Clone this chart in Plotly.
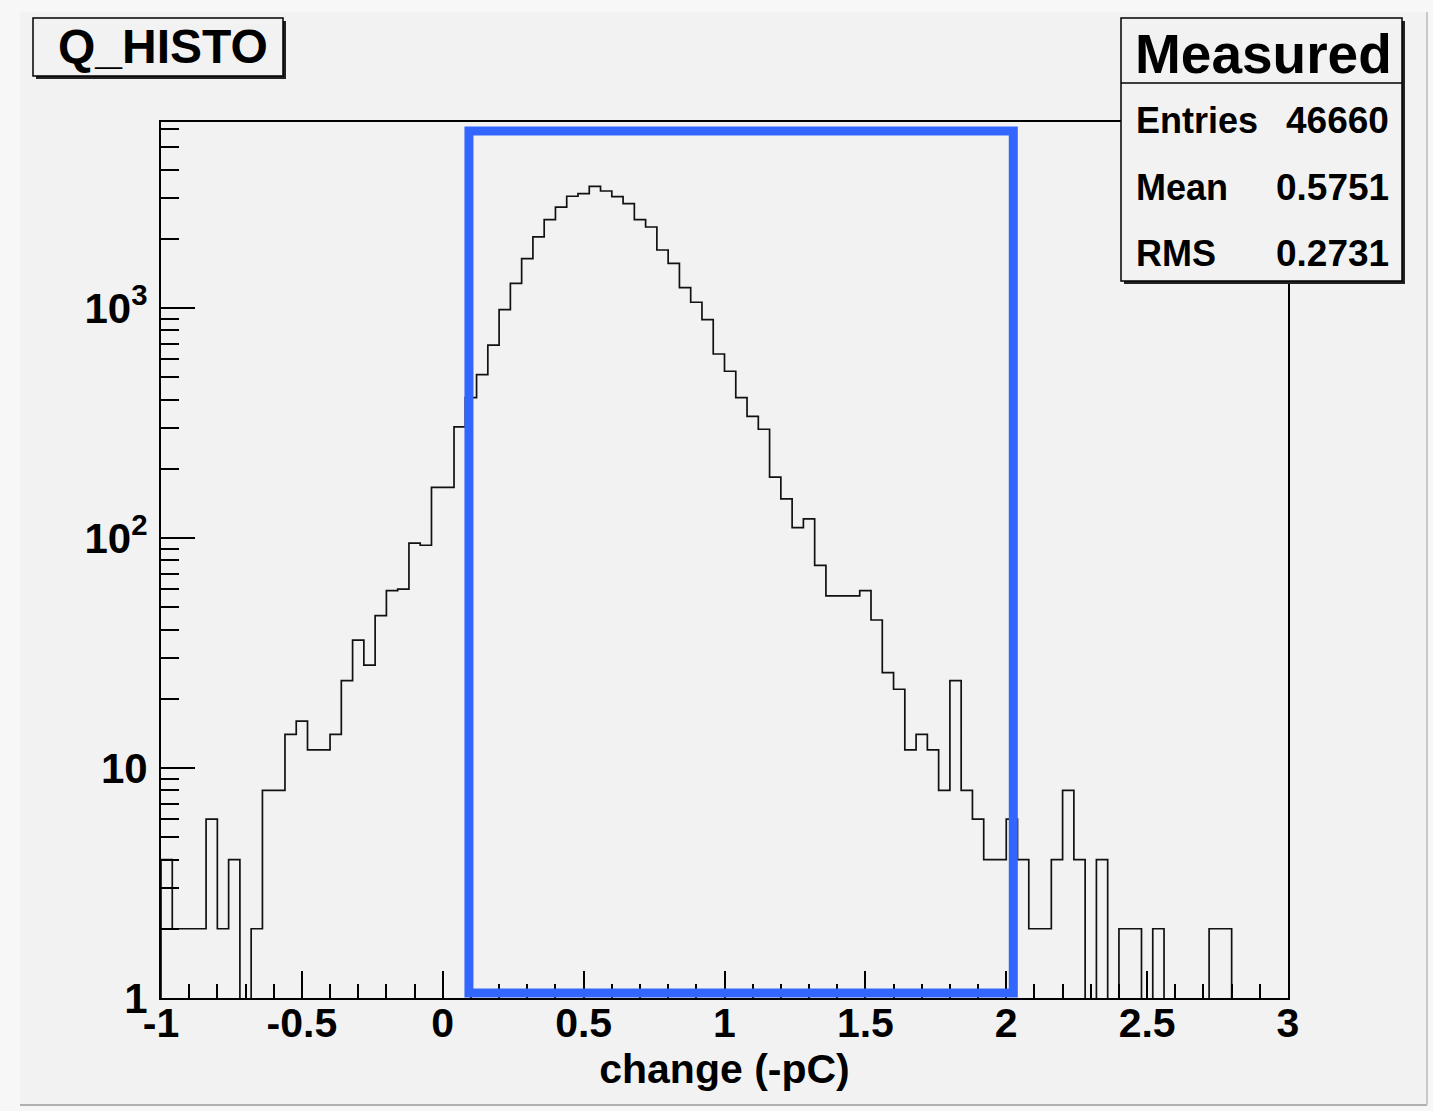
import plotly.graph_objects as go

# ---------------- data ----------------
x_min = -1.0
bin_width = 0.04
counts = [
    4, 2, 2, 2, 6, 2, 4, 0, 2, 8,
    8, 14, 16, 12, 12, 14, 24, 36, 28, 46,
    59, 60, 95, 93, 166, 166, 304, 408, 513, 689,
    984, 1280, 1640, 2037, 2422, 2748, 3061, 3142, 3381, 3227,
    3050, 2843, 2422, 2250, 1787, 1564, 1227, 1059, 891, 631,
    531, 408, 338, 297, 184, 148, 111, 121, 76, 56,
    56, 56, 59, 44, 26, 22, 12, 14, 12, 8,
    24, 8, 6, 4, 4, 6, 4, 2, 2, 4,
    8, 4, 0, 4, 0, 2, 2, 0, 2, 0,
    0, 0, 0, 2, 2, 0, 0, 0, 0, 0,
]
x_tickvals = [-1, -0.5, 0, 0.5, 1, 1.5, 2, 2.5, 3]
x_ticktext = ["-1", "-0.5", "0", "0.5", "1", "1.5", "2", "2.5", "3"]
y_tickvals = [1, 10, 100, 1000]
y_ticktext = ["1", "10", "10<sup>2</sup>", "10<sup>3</sup>"]
title_text = "Q_HISTO"
stats_title = "Measured"
stats_labels = ["Entries", "Mean", "RMS"]
stats_values = ["46660", "0.5751", "0.2731"]
x_title = "change (-pC)"
selection_x = [0.093, 2.025]

# ---------------- geometry ----------------
W, H = 1433, 1111
L, R, T, B = 161, 145, 122, 113
PW, PH = W - L - R, H - T - B


def px(xp):
    return (xp - L) / PW


def py(yp):
    return (H - B - yp) / PH


# histogram step line from the bin edges
edges = [x_min + i * bin_width for i in range(len(counts) + 1)]
floor_val = 1e-2
ys_c = [c if c > 0 else floor_val for c in counts]
xs = [edges[0]] + edges + [edges[-1]]
ys = [floor_val] + ys_c + [ys_c[-1], floor_val]

fig = go.Figure()
fig.add_trace(go.Scatter(
    x=xs, y=ys, mode="lines", line=dict(shape="hv", color="#111111", width=1.7),
    hoverinfo="skip", showlegend=False,
))

FONT = "Liberation Sans, Arial, Helvetica, sans-serif"

minor_y = []
for d in [1, 10, 100, 1000]:
    for k in range(2, 10):
        v = k * d
        if v < 6400:
            minor_y.append(v)

fig.update_layout(
    width=W, height=H,
    margin=dict(l=L, r=R, t=T, b=B, pad=0),
    paper_bgcolor="#f7f7f7",
    plot_bgcolor="#f2f2f2",
    showlegend=False,
    font=dict(family=FONT, color="black"),
    xaxis=dict(
        range=[-1, 3], tickmode="array", tickvals=x_tickvals, ticktext=x_ticktext,
        ticks="inside", ticklen=27, tickwidth=1.5, tickcolor="black",
        minor=dict(tickmode="linear", tick0=-1, dtick=0.1, ticks="inside",
                   ticklen=14, tickwidth=1.5, tickcolor="black", showgrid=False),
        showline=True, linecolor="black", linewidth=2, mirror=True,
        showgrid=False, zeroline=False,
        ticklabelstandoff=-12,
        tickfont=dict(family=FONT, size=41, weight="bold", color="black"),
        title=dict(text=x_title, font=dict(family=FONT, size=41, weight="bold", color="black"),
                   standoff=0),
    ),
    yaxis=dict(
        type="log", range=[0, PH / 230.0],
        tickmode="array", tickvals=y_tickvals, ticktext=y_ticktext,
        ticks="inside", ticklen=34, tickwidth=1.5, tickcolor="black",
        minor=dict(tickmode="array", tickvals=minor_y, ticks="inside",
                   ticklen=18, tickwidth=1.5, tickcolor="black", showgrid=False),
        showline=True, linecolor="black", linewidth=2, mirror=True,
        showgrid=False, zeroline=False,
        ticklabelstandoff=3,
        tickfont=dict(family=FONT, size=42, weight="bold", color="black"),
    ),
)

shapes = []
# canvas panel with bevel
shapes.append(dict(type="rect", xref="paper", yref="paper",
                   x0=px(20), x1=px(1426), y0=py(1105), y1=py(12),
                   fillcolor="#f2f2f2", line=dict(width=0), layer="below"))
shapes.append(dict(type="line", xref="paper", yref="paper",
                   x0=px(20), x1=px(1427), y0=py(1105), y1=py(1105),
                   line=dict(color="#b0b0b0", width=2), layer="below"))
shapes.append(dict(type="line", xref="paper", yref="paper",
                   x0=px(1427), x1=px(1427), y0=py(1105), y1=py(12),
                   line=dict(color="#c8c8c8", width=2), layer="below"))

# selection box (blue)
shapes.append(dict(type="rect", xref="x", yref="paper",
                   x0=selection_x[0], x1=selection_x[1], y0=py(993), y1=py(131),
                   line=dict(color="#3366ff", width=9), fillcolor="rgba(0,0,0,0)",
                   layer="above"))


def box(x0, y0, x1, y1):
    # shadow
    shapes.append(dict(type="rect", xref="paper", yref="paper",
                       x0=px(x0 + 3), x1=px(x1 + 3), y0=py(y1 + 3), y1=py(y0 + 3),
                       fillcolor="#222222", line=dict(width=0), layer="above"))
    shapes.append(dict(type="rect", xref="paper", yref="paper",
                       x0=px(x0), x1=px(x1), y0=py(y1), y1=py(y0),
                       fillcolor="#f2f2f2", line=dict(color="black", width=1.5), layer="above"))


box(33, 18, 283, 76)
box(1121, 18, 1402, 281)
shapes.append(dict(type="line", xref="paper", yref="paper",
                   x0=px(1121), x1=px(1402), y0=py(83), y1=py(83),
                   line=dict(color="black", width=1.5), layer="above"))
fig.update_layout(shapes=shapes)

ann = []
ann.append(dict(text=title_text, xref="paper", yref="paper", x=px(163), y=py(47),
                xanchor="center", yanchor="middle", showarrow=False,
                font=dict(family=FONT, size=48, weight="bold", color="black")))
ann.append(dict(text=stats_title, xref="paper", yref="paper", x=px(1263), y=py(54),
                xanchor="center", yanchor="middle", showarrow=False,
                font=dict(family=FONT, size=55, weight="bold", color="black")))
row_y = [121, 187, 253]
for lab, val, yy in zip(stats_labels, stats_values, row_y):
    ann.append(dict(text=lab, xref="paper", yref="paper", x=px(1134), y=py(yy),
                    xanchor="left", yanchor="middle", showarrow=False,
                    font=dict(family=FONT, size=36, weight="bold", color="black")))
    ann.append(dict(text=val, xref="paper", yref="paper", x=px(1391), y=py(yy),
                    xanchor="right", yanchor="middle", showarrow=False,
                    font=dict(family=FONT, size=37, weight="bold", color="black")))
fig.update_layout(annotations=ann)

fig.write_html("out.html", config={"displayModeBar": False},
               post_script="document.body.style.margin='0';")
